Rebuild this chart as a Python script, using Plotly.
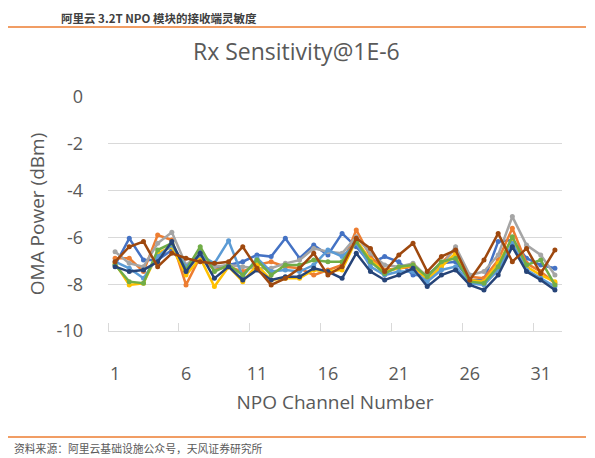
import plotly.graph_objs as go

channels = list(range(1, 33))

ch_blue = [-7.18, -6.04, -6.97, -6.97, -6.54, -7.32, -6.61, -7.32, -7.18, -7.04, -6.75, -6.82,
           -6.04, -6.89, -6.33, -6.75, -5.83, -6.40, -7.11, -6.82, -7.04, -7.61, -7.61, -7.11,
           -7.04, -7.82, -7.82, -6.18, -6.11, -6.89, -7.18, -7.32]
ch_orange = [-6.89, -6.89, -7.46, -5.90, -6.11, -8.03, -6.82, -7.39, -7.25, -7.46, -7.18, -7.04,
             -7.25, -7.32, -7.61, -7.39, -7.18, -5.68, -6.82, -7.39, -7.32, -7.25, -7.75, -7.11,
             -6.47, -7.68, -7.75, -6.97, -5.61, -7.11, -7.46, -7.96]
ch_gray = [-6.61, -7.11, -7.25, -6.25, -5.78, -7.18, -6.68, -7.25, -7.18, -7.25, -7.32, -7.32,
           -7.11, -6.97, -6.47, -6.61, -6.68, -5.97, -6.68, -7.18, -7.25, -7.11, -7.68, -7.25,
           -6.40, -7.61, -7.46, -6.75, -5.11, -6.33, -6.75, -7.61]
ch_yellow = [-7.11, -8.03, -7.96, -6.68, -6.40, -7.61, -6.89, -8.10, -7.25, -7.89, -7.18, -7.82,
             -7.75, -7.75, -7.39, -7.46, -7.39, -6.11, -6.97, -7.46, -7.32, -7.18, -7.82, -7.25,
             -6.68, -7.82, -7.89, -7.11, -6.04, -7.25, -7.61, -7.89]
ch_lightblue = [-7.04, -7.32, -7.75, -6.82, -6.33, -7.25, -6.75, -7.11, -6.14, -7.68, -6.89, -7.46,
                -7.39, -7.46, -7.18, -6.54, -6.82, -6.25, -7.25, -7.61, -7.46, -7.46, -7.89, -7.39,
                -7.25, -7.96, -8.03, -7.39, -6.25, -7.39, -7.75, -8.10]
ch_green = [-7.18, -7.89, -7.96, -6.54, -6.25, -7.39, -6.40, -7.46, -7.18, -7.61, -6.97, -7.61,
            -7.18, -7.18, -6.97, -7.04, -7.04, -6.18, -7.04, -7.54, -7.25, -7.18, -7.68, -7.04,
            -6.89, -7.89, -7.96, -7.25, -5.97, -7.18, -6.97, -8.03]
ch_darkblue = [-7.25, -7.46, -7.39, -7.04, -6.18, -7.46, -6.68, -7.75, -7.25, -7.82, -7.39, -7.82,
               -7.68, -7.68, -7.32, -7.46, -7.75, -6.68, -7.46, -7.82, -7.61, -7.32, -8.10, -7.61,
               -7.39, -8.03, -8.25, -7.61, -6.40, -7.46, -7.82, -8.25]
ch_brown = [-7.04, -6.40, -6.18, -7.25, -6.68, -6.89, -7.04, -7.11, -7.04, -6.40, -7.32, -8.03,
            -7.75, -7.32, -6.68, -7.61, -7.25, -6.04, -6.47, -7.46, -6.75, -6.25, -7.46, -6.82,
            -6.54, -7.82, -6.97, -5.83, -7.04, -6.47, -7.54, -6.54]

x_tick_vals = [1, 6, 11, 16, 21, 26, 31]
y_tick_vals = [0, -2, -4, -6, -8, -10]
y_tick_text = ['0', '-2', '-4', '-6', '-8', '-10']

series = [
    (ch_blue, '#4472C4'),
    (ch_orange, '#ED7D31'),
    (ch_gray, '#A5A5A5'),
    (ch_yellow, '#FFC000'),
    (ch_lightblue, '#5B9BD5'),
    (ch_green, '#70AD47'),
    (ch_darkblue, '#264478'),
    (ch_brown, '#9E480E'),
]

TXT = '#595959'
GRID = '#D9D9D9'
FONT = 'Open Sans'

fig = go.Figure()

for vals, color in series:
    fig.add_trace(go.Scatter(
        x=channels, y=vals, mode='lines+markers',
        line={'color': color, 'width': 2.5},
        marker={'color': color, 'size': 5},
        showlegend=False,
    ))

# page body has an 8px margin, so the figure is 8px smaller than the window
fig.update_layout(
    width=587, height=450,
    margin={'l': 100, 'r': 33, 't': 89, 'b': 127},
    plot_bgcolor='white',
    paper_bgcolor='white',
)

fig.update_xaxes(
    range=[0.5, 32.5], automargin=False,
    tickmode='array', tickvals=x_tick_vals,
    ticks='', ticklabelstandoff=26,
    tickfont={'family': FONT, 'size': 18, 'color': TXT},
    showgrid=False, zeroline=False,
    showline=True, linecolor=GRID, linewidth=1,
    minor={'tick0': 0.5, 'dtick': 5, 'ticks': 'inside', 'ticklen': 8, 'tickcolor': GRID, 'showgrid': False},
    title={'text': 'NPO Channel Number', 'standoff': 12,
           'font': {'family': FONT, 'size': 19, 'color': TXT}},
)

fig.update_yaxes(
    range=[-10, 0], automargin=False,
    tickmode='array', tickvals=y_tick_vals, ticktext=y_tick_text,
    ticks='', ticklabelstandoff=24,
    tickfont={'family': FONT, 'size': 18, 'color': TXT},
    showgrid=True, gridcolor=GRID, gridwidth=1, zeroline=False,
    title={'text': 'OMA Power (dBm)', 'standoff': 6,
           'font': {'family': FONT, 'size': 19, 'color': TXT}},
)

# page pixel -> paper coords
px = lambda v: (v - 108) / 454
py = lambda v: (331 - v) / 234

fig.add_annotation(text='Rx Sensitivity@1E-6', xref='paper', yref='paper',
                   x=px(296), y=py(51), xanchor='center', yanchor='middle', showarrow=False,
                   font={'family': FONT, 'size': 23, 'color': TXT})

# header / footer (report style)
fig.add_shape(type='line', xref='paper', yref='paper', x0=px(8), x1=px(586), y0=py(27), y1=py(27),
              line={'color': '#ED7D31', 'width': 1.5})
fig.add_shape(type='line', xref='paper', yref='paper', x0=px(8), x1=px(586), y0=py(437), y1=py(437),
              line={'color': '#ED7D31', 'width': 1.5})

fig.add_annotation(text='<b>阿里云 3.2T NPO 模块的接收端灵敏度</b>', xref='paper', yref='paper',
                   x=px(59), y=py(18), xanchor='left', yanchor='middle', showarrow=False,
                   font={'family': 'Noto Sans CJK SC', 'size': 11.5, 'color': '#404040'})
fig.add_annotation(text='资料来源：阿里云基础设施公众号，天风证券研究所', xref='paper', yref='paper',
                   x=px(12), y=py(448), xanchor='left', yanchor='middle', showarrow=False,
                   font={'family': 'Noto Sans CJK SC', 'size': 10.8, 'color': '#595959'})

fig.write_html('out.html')
